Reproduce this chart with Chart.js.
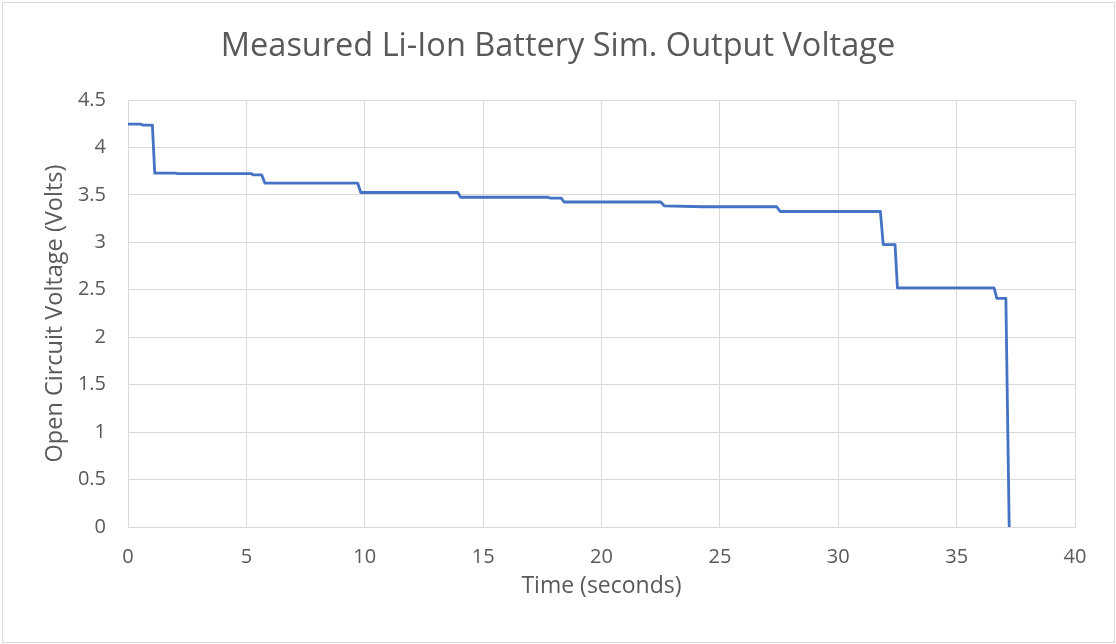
<!DOCTYPE html>
<html>
<head>
<meta charset="utf-8">
<script src="https://cdn.jsdelivr.net/npm/chart.js@4/dist/chart.umd.min.js"></script>
<style>
  html, body { margin: 0; padding: 0; background: #ffffff; }
  #wrap { width: 1116px; height: 644px; position: relative; }
</style>
</head>
<body>
<div id="wrap"><canvas id="c" width="1116" height="644"></canvas></div>
<script>
// Data
const timeSeconds = [0, 0.55, 0.62, 1.03, 1.13, 2.0, 2.1, 5.2, 5.3, 5.65, 5.78, 9.7, 9.83, 13.93, 14.05, 17.75, 17.85, 18.3, 18.42, 22.5, 22.65, 24.3, 27.4, 27.55, 31.78, 31.9, 32.4, 32.5, 36.58, 36.7, 37.08, 37.22];
const voltage =     [4.245, 4.245, 4.235, 4.235, 3.73, 3.73, 3.725, 3.725, 3.71, 3.71, 3.625, 3.625, 3.525, 3.525, 3.475, 3.475, 3.465, 3.465, 3.425, 3.425, 3.385, 3.375, 3.375, 3.325, 3.325, 2.975, 2.975, 2.52, 2.52, 2.41, 2.41, 0];
const xTicks = [0, 5, 10, 15, 20, 25, 30, 35, 40];
const yTicks = [0, 0.5, 1, 1.5, 2, 2.5, 3, 3.5, 4, 4.5];
const chartTitle = 'Measured Li-Ion Battery Sim. Output Voltage';
const xTitle = 'Time (seconds)';
const yTitle = 'Open Circuit Voltage (Volts)';

const points = timeSeconds.map((t, i) => ({ x: t, y: voltage[i] }));
const FONT = '"Open Sans", sans-serif';
const TXT = '#595959';
const GRID = '#d9d9d9';

const bgPlugin = {
  id: 'bg',
  beforeDraw(chart) {
    const ctx = chart.ctx;
    ctx.save();
    ctx.fillStyle = '#ffffff';
    ctx.fillRect(0, 0, chart.width, chart.height);
    ctx.strokeStyle = GRID;
    ctx.lineWidth = 1;
    ctx.strokeRect(2.5, 2.5, chart.width - 4, chart.height - 4);
    ctx.restore();
  },
  afterDraw(chart) {
    // chart title, centred on the whole chart box
    const ctx = chart.ctx;
    ctx.save();
    ctx.fillStyle = TXT;
    ctx.font = '400 32.5px ' + FONT;
    ctx.textAlign = 'center';
    ctx.textBaseline = 'alphabetic';
    ctx.fillText(chartTitle, chart.width / 2, 56);
    ctx.restore();
  }
};

new Chart(document.getElementById('c'), {
  type: 'line',
  data: {
    datasets: [{
      data: points,
      borderColor: '#4472C4',
      borderWidth: 2.8,
      pointRadius: 0,
      tension: 0,
      fill: false,
      borderJoinStyle: 'round'
    }]
  },
  options: {
    responsive: false,
    animation: false,
    devicePixelRatio: 1,
    layout: { padding: { left: 0, right: 41, top: 100, bottom: 0 } },
    plugins: {
      legend: { display: false },
      tooltip: { enabled: false },
      title: { display: false }
    },
    scales: {
      x: {
        type: 'linear',
        min: 0,
        max: 40,
        afterBuildTicks(scale) { scale.ticks = xTicks.map(v => ({ value: v })); },
        afterFit(scale) { scale.height = 117; },
        grid: { color: GRID, lineWidth: 1, drawTicks: false },
        border: { color: GRID, width: 1 },
        ticks: { color: TXT, font: { family: FONT, size: 20 }, padding: 18.5, maxRotation: 0, callback: v => String(v) },
        title: {
          display: true,
          text: xTitle,
          color: TXT,
          font: { family: FONT, size: 23, lineHeight: 1.2 },
          padding: { top: 0, bottom: 44 }
        }
      },
      y: {
        type: 'linear',
        min: 0,
        max: 4.5,
        afterBuildTicks(scale) { scale.ticks = yTicks.map(v => ({ value: v })); },
        afterFit(scale) { scale.width = 128; },
        grid: { color: GRID, lineWidth: 1, drawTicks: false },
        border: { color: GRID, width: 1 },
        ticks: { color: TXT, font: { family: FONT, size: 20 }, padding: 22, callback: v => String(v) },
        title: {
          display: true,
          text: yTitle,
          color: TXT,
          font: { family: FONT, size: 23.5, lineHeight: 1.2 },
          padding: { top: 41, bottom: 0 }
        }
      }
    }
  },
  plugins: [bgPlugin]
});
</script>
</body>
</html>
